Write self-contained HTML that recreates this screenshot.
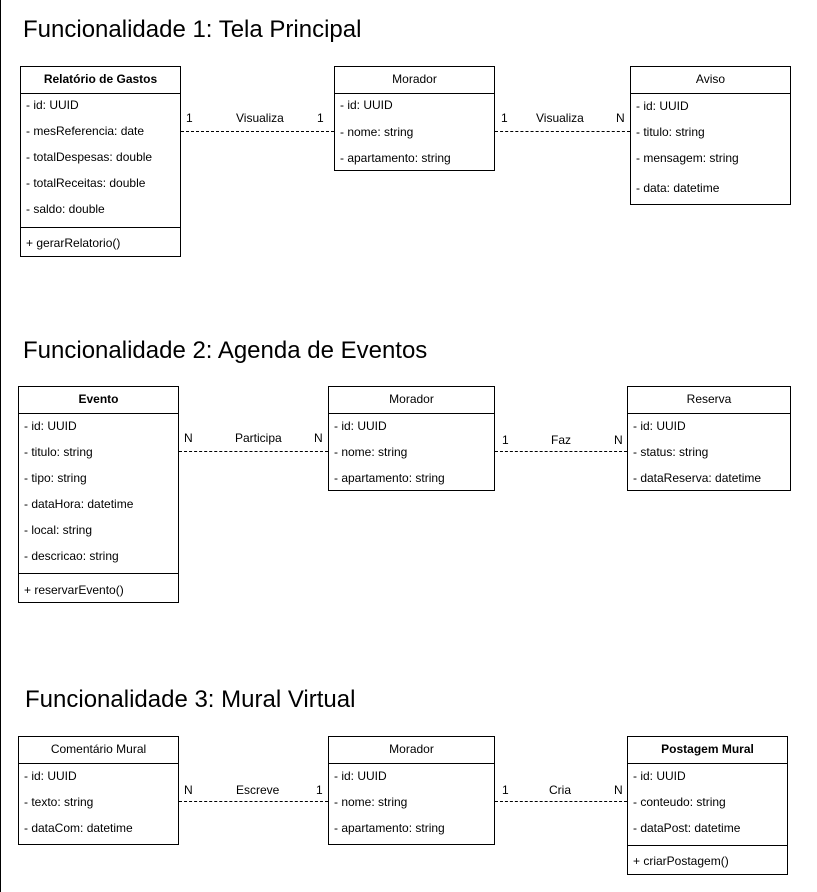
<!DOCTYPE html>
<html><head><meta charset="utf-8"><style>
body{margin:0;width:817px;height:892px;background:#fff;position:relative;overflow:hidden;font-family:"Liberation Sans",Arial,sans-serif;color:#000}
.b{position:absolute;border:1px solid #000;box-sizing:border-box;background:#fff}
.h{position:absolute;left:0;right:0;top:0;height:26px;border-bottom:1px solid #000;text-align:center;font-size:12px;line-height:25px}
.r{position:absolute;left:5px;font-size:12px;line-height:14px;white-space:nowrap}
.d{position:absolute;left:0;right:0;border-top:1px solid #000}
.t{position:absolute;font-size:24px;white-space:nowrap}
.l{position:absolute;font-size:12px;line-height:14px;white-space:nowrap}
.c{position:absolute;border-top:1px dashed #000;height:0}
</style></head><body>
<div style="position:absolute;left:0;top:0;width:1px;height:892px;background:#000"></div>

<div class="t" style="left:23px;top:16px">Funcionalidade 1: Tela Principal</div>
<div class="t" style="left:23px;top:337px">Funcionalidade 2: Agenda de Eventos</div>
<div class="t" style="left:25px;top:686px">Funcionalidade 3: Mural Virtual</div>

<!-- Row 1 -->
<div class="b" style="left:20px;top:66px;width:161px;height:191px">
<div class="h" style="font-weight:bold">Relatório de Gastos</div>
<div class="r" style="top:31px">- id: UUID</div>
<div class="r" style="top:57px">- mesReferencia: date</div>
<div class="r" style="top:83px">- totalDespesas: double</div>
<div class="r" style="top:109px">- totalReceitas: double</div>
<div class="r" style="top:135px">- saldo: double</div>
<div class="d" style="top:160px"></div>
<div class="r" style="top:169px">+ gerarRelatorio()</div>
</div>
<div class="b" style="left:334px;top:66px;width:161px;height:105px">
<div class="h">Morador</div>
<div class="r" style="top:31px">- id: UUID</div>
<div class="r" style="top:58px">- nome: string</div>
<div class="r" style="top:84px">- apartamento: string</div>
</div>
<div class="b" style="left:630px;top:66px;width:161px;height:139px">
<div class="h">Aviso</div>
<div class="r" style="top:32px">- id: UUID</div>
<div class="r" style="top:58px">- titulo: string</div>
<div class="r" style="top:84px">- mensagem: string</div>
<div class="r" style="top:114px">- data: datetime</div>
</div>
<div class="c" style="left:181px;top:131px;width:153px"></div>
<div class="c" style="left:495px;top:131px;width:135px"></div>
<div class="l" style="left:186px;top:111px">1</div>
<div class="l" style="left:236px;top:111px">Visualiza</div>
<div class="l" style="left:317px;top:111px">1</div>
<div class="l" style="left:501px;top:111px">1</div>
<div class="l" style="left:536px;top:111px">Visualiza</div>
<div class="l" style="left:616px;top:111px">N</div>

<!-- Row 2 -->
<div class="b" style="left:18px;top:386px;width:161px;height:217px">
<div class="h" style="font-weight:bold">Evento</div>
<div class="r" style="top:32px">- id: UUID</div>
<div class="r" style="top:58px">- titulo: string</div>
<div class="r" style="top:84px">- tipo: string</div>
<div class="r" style="top:110px">- dataHora: datetime</div>
<div class="r" style="top:136px">- local: string</div>
<div class="r" style="top:162px">- descricao: string</div>
<div class="d" style="top:186px"></div>
<div class="r" style="top:196px">+ reservarEvento()</div>
</div>
<div class="b" style="left:328px;top:386px;width:167px;height:105px">
<div class="h">Morador</div>
<div class="r" style="top:32px">- id: UUID</div>
<div class="r" style="top:58px">- nome: string</div>
<div class="r" style="top:84px">- apartamento: string</div>
</div>
<div class="b" style="left:627px;top:386px;width:164px;height:105px">
<div class="h">Reserva</div>
<div class="r" style="top:32px">- id: UUID</div>
<div class="r" style="top:58px">- status: string</div>
<div class="r" style="top:84px">- dataReserva: datetime</div>
</div>
<div class="c" style="left:179px;top:451px;width:149px"></div>
<div class="c" style="left:495px;top:451px;width:132px"></div>
<div class="l" style="left:184px;top:431px">N</div>
<div class="l" style="left:235px;top:431px">Participa</div>
<div class="l" style="left:314px;top:431px">N</div>
<div class="l" style="left:502px;top:433px">1</div>
<div class="l" style="left:551px;top:433px">Faz</div>
<div class="l" style="left:614px;top:433px">N</div>

<!-- Row 3 -->
<div class="b" style="left:18px;top:736px;width:161px;height:109px">
<div class="h">Comentário Mural</div>
<div class="r" style="top:32px">- id: UUID</div>
<div class="r" style="top:58px">- texto: string</div>
<div class="r" style="top:84px">- dataCom: datetime</div>
</div>
<div class="b" style="left:328px;top:736px;width:167px;height:109px">
<div class="h">Morador</div>
<div class="r" style="top:32px">- id: UUID</div>
<div class="r" style="top:58px">- nome: string</div>
<div class="r" style="top:84px">- apartamento: string</div>
</div>
<div class="b" style="left:627px;top:736px;width:161px;height:139px">
<div class="h" style="font-weight:bold">Postagem Mural</div>
<div class="r" style="top:32px">- id: UUID</div>
<div class="r" style="top:58px">- conteudo: string</div>
<div class="r" style="top:84px">- dataPost: datetime</div>
<div class="d" style="top:108px"></div>
<div class="r" style="top:117px">+ criarPostagem()</div>
</div>
<div class="c" style="left:179px;top:801px;width:149px"></div>
<div class="c" style="left:495px;top:801px;width:132px"></div>
<div class="l" style="left:184px;top:783px">N</div>
<div class="l" style="left:236px;top:783px">Escreve</div>
<div class="l" style="left:316px;top:783px">1</div>
<div class="l" style="left:502px;top:783px">1</div>
<div class="l" style="left:549px;top:783px">Cria</div>
<div class="l" style="left:614px;top:783px">N</div>
</body></html>
